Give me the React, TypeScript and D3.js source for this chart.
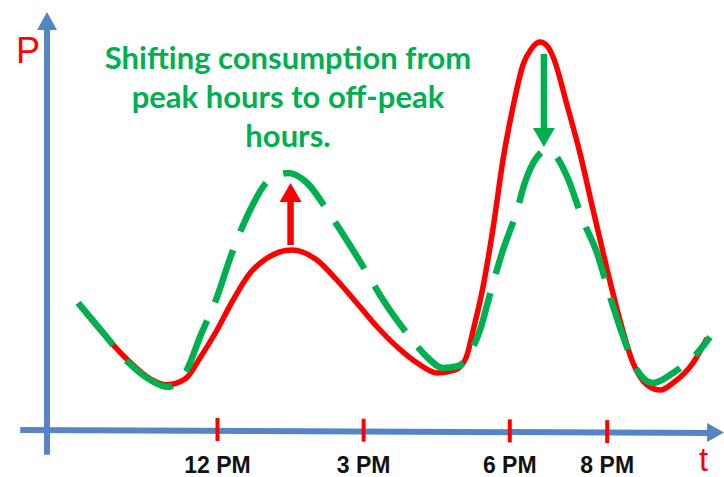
import React from "react";
import * as d3 from "d3";

// hours of day (x) and power (arbitrary units, y)
const baseHours = [9.14, 9.59, 10.2, 10.62, 10.96, 11.33, 11.64, 11.99, 12.32, 12.67, 13.02, 13.53, 14.04, 14.45, 14.86, 15.28, 15.69, 16.1, 16.51, 16.88, 17.1, 17.25, 17.45, 17.66, 17.86, 18.07, 18.27, 18.44, 18.62, 18.77, 18.89, 19.18, 19.44, 19.71, 20.0, 20.26, 20.53, 20.82, 21.09, 21.35, 21.76, 22.05];
const baseValues = [31.25, 24.5, 16.5, 12.3, 10.8, 12.2, 17.5, 24.5, 32, 38.75, 42.5, 44.5, 42, 37, 31.25, 25.25, 20.25, 16.25, 13.75, 14.5, 17.5, 24.5, 35.25, 50.25, 67, 80.5, 90.75, 94.75, 96.5, 95.5, 92.75, 80.5, 68.75, 54.5, 39.5, 27, 16.25, 10.75, 9.5, 11.25, 16.25, 22.5];

const shiftedHours = [9.14, 9.59, 10.2, 10.62, 10.98, 11.37, 11.64, 11.99, 12.26, 12.5, 12.67, 13.02, 13.45, 13.84, 14.25, 14.52, 15.07, 15.4, 15.95, 16.3, 16.63, 16.94, 17.18, 17.39, 17.6, 17.84, 18.15, 18.3, 18.56, 18.77, 18.93, 19.18, 19.5, 19.79, 20.06, 20.33, 20.61, 20.94, 21.35, 21.85, 22.11];
const shiftedValues = [31.25, 24.75, 16, 12, 10.25, 14.5, 22.75, 32.75, 42.5, 50, 54.5, 61.5, 63.75, 61.25, 54.5, 49.5, 38.75, 32, 22.75, 17.75, 15, 15.5, 18.75, 24.5, 33.75, 43.75, 54.5, 61, 67.75, 69.5, 68.25, 62.75, 52, 43.75, 32.75, 22.75, 14.5, 11.25, 13.75, 18.75, 22.75];

const tickHours = [12, 15, 18, 20];
const tickLabels = ["12 PM", "3 PM", "6 PM", "8 PM"];

const titleLines = ["Shifting consumption from", "peak hours to off-peak", "hours."];

// annotation arrows: hour, start value, end (tip) value
const arrowHours = [13.5, 18.7];
const arrowFrom = [45.75, 93.5];
const arrowTo = [61.25, 70.25];

const RED = "#ff0000";
const GREEN = "#00b050";
const BLUE = "#5585c5";

export default function App() {
  const width = 724;
  const height = 477;
  const x = d3.scaleLinear().domain([8.5, 22.5]).range([47, 729]);
  const y = d3.scaleLinear().domain([0, 100]).range([428, 28]);

  const line = d3
    .line<[number, number]>()
    .x((d) => x(d[0]))
    .y((d) => y(d[1]))
    .curve(d3.curveMonotoneX);

  const basePts = baseHours.map((h, i) => [h, baseValues[i]] as [number, number]);
  const shiftPts = shiftedHours.map((h, i) => [h, shiftedValues[i]] as [number, number]);

  const axisY = y(-0.5);
  const yAxisX = x(8.5);
  const arrowColors = [RED, GREEN];

  return (
    <svg width={width} height={height} style={{ position: "absolute", left: 0, top: 0, background: "#fff" }}>
      {/* y axis */}
      <line x1={yAxisX} x2={yAxisX} y1={y(-6.7)} y2={y(100)} stroke={BLUE} strokeWidth={6} />
      <path d={`M${yAxisX - 10},${y(99.5)} L${yAxisX},${y(104)} L${yAxisX + 10},${y(99.5)} Z`} fill={BLUE} />
      {/* x axis */}
      <line x1={x(7.95)} x2={x(22.1)} y1={axisY} y2={axisY + 3} stroke={BLUE} strokeWidth={6} />
      <path d={`M${x(22.05)},${axisY - 7} L${x(22.4)},${axisY + 2.5} L${x(22.05)},${axisY + 12} Z`} fill={BLUE} />

      {/* ticks */}
      {tickHours.map((h, i) => (
        <g key={i}>
          <line x1={x(h)} x2={x(h)} y1={axisY - 12 + i * 0.7} y2={axisY + 11 + i * 0.7} stroke={RED} strokeWidth={4} />
          <text
            x={x(h)}
            y={473}
            textAnchor="middle"
            fontFamily="'Liberation Sans', Arial, sans-serif"
            fontWeight="bold"
            fontSize={23}
            fill="#111"
          >
            {tickLabels[i]}
          </text>
        </g>
      ))}

      {/* axis titles */}
      <text x={16} y={63} fontFamily="'Liberation Sans', Arial, sans-serif" fontSize={36} fill={RED}>P</text>
      <text x={699} y={471} fontFamily="'Liberation Sans', Arial, sans-serif" fontSize={33} fill={RED}>t</text>

      {/* curves */}
      <path d={line(basePts) || ""} fill="none" stroke={RED} strokeWidth={5.5} />
      <path
        d={line(shiftPts) || ""}
        fill="none"
        stroke={GREEN}
        strokeWidth={6.5}
        strokeDasharray="55 20"
      />

      {/* arrows */}
      {arrowHours.map((h, i) => {
        const cx = x(h);
        const y0 = y(arrowFrom[i]);
        const y1 = y(arrowTo[i]);
        const dir = y1 < y0 ? -1 : 1;
        const headLen = 19;
        const headBase = y1 - dir * headLen;
        return (
          <g key={i}>
            <line x1={cx} x2={cx} y1={y0} y2={headBase} stroke={arrowColors[i]} strokeWidth={6.5} />
            <path d={`M${cx - 11},${headBase} L${cx},${y1} L${cx + 11},${headBase} Z`} fill={arrowColors[i]} />
          </g>
        );
      })}

      {/* title */}
      {titleLines.map((t, i) => (
        <text
          key={i}
          x={288}
          y={69 + i * 39}
          textAnchor="middle"
          fontFamily="Lato, 'Open Sans', sans-serif"
          fontWeight="bold"
          fontSize={31}
          fill={GREEN}
        >
          {t}
        </text>
      ))}
    </svg>
  );
}
